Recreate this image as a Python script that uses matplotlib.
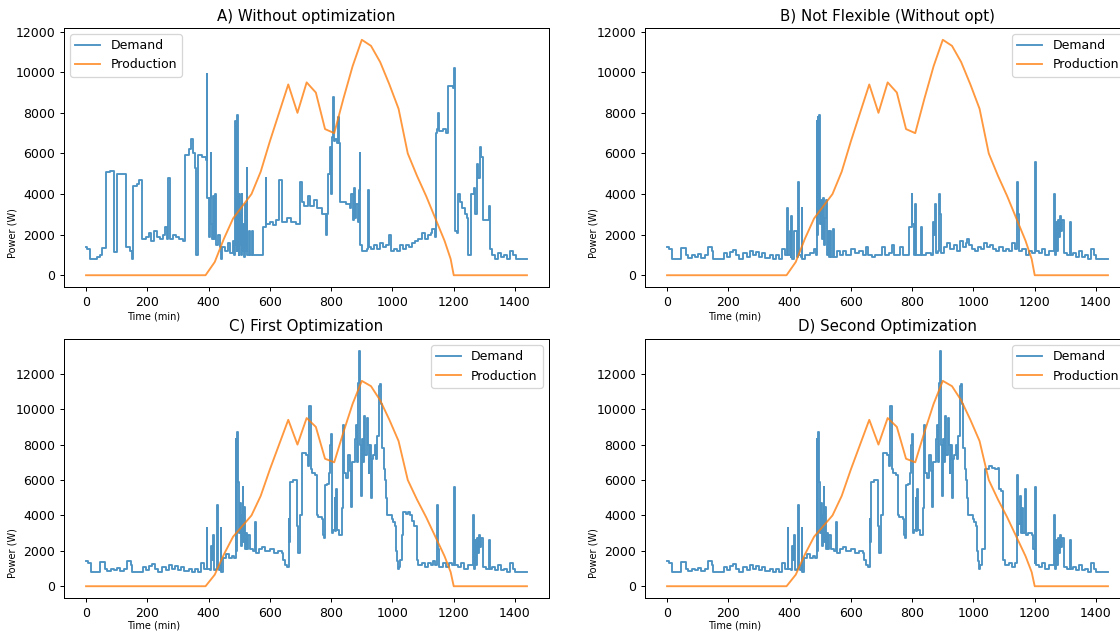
import numpy as np
import matplotlib
matplotlib.use('Agg')
import matplotlib.pyplot as plt

# production curve (W), 30 min resolution
prod_t = [0, 390, 420, 450, 480, 510, 540, 570, 600, 630, 660, 690, 720, 750, 780, 810,
          840, 870, 900, 930, 960, 990, 1020, 1050, 1080, 1110, 1140, 1170, 1190, 1200, 1439]
prod_w = [0, 0, 650, 1800, 2800, 3400, 4000, 5100, 6600, 8000, 9400, 8000, 9500, 9000, 7200, 7000,
          8700, 10300, 11600, 11300, 10500, 9400, 8200, 6000, 4900, 3900, 2800, 1700, 800, 0, 0]

# A) demand without optimization (breakpoints, minute, W)
a_t = [0, 4, 12, 35, 45, 52, 64, 78, 90, 101, 131, 145, 149, 154, 165, 174, 184, 195, 205, 212,
       222, 230, 240, 250, 258, 263, 268, 273, 285, 295, 305, 315, 322, 335, 343, 348, 355, 359,
       367, 380, 393, 394, 396, 400, 404, 407, 409, 412, 415, 418, 422, 425, 430, 436, 440, 445,
       455, 462, 470, 478, 484, 486, 488, 490, 492, 494, 496, 498, 500, 502, 504, 506, 508, 510,
       513, 516, 519, 521, 524, 526, 531, 534, 541, 544, 577, 586, 588, 600, 610, 620, 631, 638,
       655, 670, 685, 698, 704, 712, 725, 730, 745, 755, 770, 782, 786, 790, 795, 800, 803, 806,
       809, 812, 818, 822, 825, 830, 850, 862, 866, 870, 874, 878, 882, 886, 890, 893, 895, 900,
       918, 921, 923, 930, 940, 950, 960, 970, 980, 988, 995, 1005, 1015, 1025, 1035, 1045, 1055,
       1065, 1075, 1085, 1095, 1105, 1115, 1125, 1130, 1138, 1143, 1146, 1148, 1151, 1165, 1175,
       1181, 1198, 1200, 1203, 1210, 1214, 1222, 1228, 1236, 1242, 1247, 1255, 1258, 1265, 1270,
       1275, 1280, 1285, 1290, 1294, 1310, 1315, 1318, 1325, 1335, 1345, 1355, 1365, 1375, 1385,
       1395, 1402, 1439]
a_w = [1400, 1300, 800, 900, 1000, 1350, 5100, 5150, 1150, 5000, 1400, 1200, 800, 4400, 4500, 4700,
       1800, 1900, 2100, 1700, 2200, 1900, 1800, 2000, 2400, 1800, 4800, 1800, 2000, 1900, 1800,
       1700, 5900, 6200, 6700, 6000, 5300, 1000, 5900, 5800, 5700, 9900, 3800, 1900, 3800, 6000,
       2500, 1800, 3900, 1800, 4000, 1500, 2000, 1400, 800, 1400, 1200, 1600, 1100, 1700, 1000,
       7600, 1500, 3000, 1200, 7900, 2500, 1000, 4000, 1500, 3000, 1000, 4000, 1200, 2500, 900,
       3500, 1200, 5300, 1000, 2200, 1000, 2200, 1000, 2400, 4800, 2500, 2600, 2450, 2700, 4700,
       2600, 2800, 2600, 2500, 4600, 3600, 3400, 3900, 3400, 3700, 3300, 3000, 2000, 3000, 5000,
       6300, 4000, 6800, 8800, 6600, 6700, 6500, 7800, 6500, 3600, 3500, 3300, 4000, 2700, 4300,
       2800, 3500, 2600, 4200, 6000, 1500, 1200, 1300, 4200, 1400, 1300, 1500, 1300, 1600, 1400,
       1500, 2000, 1200, 1300, 1200, 1500, 1300, 1500, 1400, 1600, 1700, 1800, 2100, 1800, 2000,
       2100, 2300, 1900, 7000, 7200, 8000, 7100, 7200, 7000, 9300, 9200, 10200, 2200, 2100, 4000,
       3600, 3300, 3000, 2800, 1000, 1100, 4000, 4300, 3000, 5500, 4800, 6300, 5800, 2700, 2700,
       3400, 1300, 1000, 800, 1100, 900, 1000, 800, 1200, 1000, 800, 800]

# shared night baseline (0-390 min) for B, C, D
base_t = [0, 5, 17, 47, 62, 70, 80, 90, 100, 110, 125, 135, 146, 150, 175, 185, 195, 205, 215,
          225, 235, 248, 260, 270, 280, 290, 300, 310, 320, 335, 345, 355, 365, 375, 385]
base_w = [1400, 1300, 800, 1350, 1000, 850, 1000, 900, 1050, 850, 1000, 1400, 1200, 800, 800, 1100,
          900, 1150, 1250, 1000, 800, 1100, 900, 1200, 1000, 1150, 900, 1100, 850, 1000, 800, 1000,
          800, 1300, 1000]

# shared evening tail (from 1202 min) for B, C, D
tail_t = [1202, 1205, 1215, 1225, 1235, 1245, 1258, 1262, 1265, 1270, 1273, 1276, 1279, 1282, 1286,
          1290, 1295, 1305, 1314, 1317, 1325, 1335, 1345, 1355, 1365, 1375, 1385, 1392, 1400, 1439]
tail_w = [5600, 1200, 1100, 1300, 1000, 1200, 1200, 4000, 1000, 2600, 1200, 2700, 1900, 2900, 2200,
          2700, 1100, 1000, 2600, 1000, 1100, 900, 1200, 900, 1000, 800, 1300, 1000, 800, 800]

# B) not flexible, 390-1200 min
b_t = [393, 395, 400, 403, 406, 408, 415, 420, 425, 428, 430, 436, 440, 442, 450, 465, 480, 486,
       488, 490, 492, 494, 496, 498, 500, 503, 506, 509, 512, 515, 518, 521, 525, 528, 533, 536,
       541, 544, 555, 565, 575, 585, 600, 612, 625, 640, 648, 655, 670, 680, 700, 710, 725, 735,
       740, 760, 770, 790, 798, 801, 805, 810, 812, 828, 832, 845, 860, 868, 872, 876, 878, 885,
       889, 892, 894, 905, 915, 925, 935, 945, 955, 965, 975, 980, 985, 995, 1005, 1015, 1025,
       1035, 1045, 1055, 1065, 1075, 1085, 1095, 1105, 1115, 1125, 1135, 1142, 1145, 1148, 1160,
       1170, 1180, 1190]
b_w = [3300, 1000, 2200, 900, 2900, 800, 2200, 2200, 900, 4600, 1000, 900, 3300, 800, 1000, 1100,
       1300, 1000, 7600, 2000, 7800, 3000, 7900, 4600, 2500, 3700, 1800, 3800, 1500, 2800, 3700,
       1000, 2200, 900, 2200, 900, 2300, 900, 1200, 1000, 1200, 1000, 1300, 1100, 1200, 1000, 1400,
       1000, 900, 1000, 1400, 1000, 1100, 1500, 1000, 1400, 1000, 2400, 4000, 2500, 1000, 3500,
       1000, 2400, 1000, 1100, 1000, 2600, 2000, 3500, 1100, 1200, 4000, 3000, 1100, 1400, 1600,
       1300, 1500, 1200, 1700, 1400, 1600, 1800, 1500, 1300, 1200, 1400, 1300, 1600, 1400, 1500,
       1300, 1200, 1400, 1200, 1300, 1200, 1600, 1300, 4600, 3000, 1200, 1300, 1000, 1200, 1100]

# C) and D) optimized day block, 394-1021 min
opt_t = [394, 396, 405, 409, 411, 415, 417, 425, 428, 430, 435, 440, 442, 448, 456, 465, 475, 484,
         489, 491, 494, 497, 499, 502, 505, 508, 511, 513, 516, 519, 522, 526, 530, 535, 545, 551,
         554, 565, 575, 585, 600, 612, 625, 638, 643, 648, 655, 661, 664, 667, 675, 688, 692, 698,
         704, 706, 718, 723, 727, 729, 733, 737, 748, 753, 756, 770, 772, 776, 779, 788, 793, 797,
         799, 802, 807, 811, 814, 817, 820, 826, 834, 838, 840, 843, 848, 856, 861, 866, 869, 875,
         878, 881, 884, 887, 889, 891, 894, 896, 900, 904, 907, 910, 912, 916, 919, 922, 925, 928,
         931, 934, 937, 942, 946, 951, 955, 957, 960, 963, 966, 971, 975, 978, 983, 998, 1003,
         1009, 1012, 1015, 1018]
opt_w = [3300, 1000, 900, 2300, 1500, 2900, 900, 1000, 4600, 1200, 900, 3300, 800, 1600, 1800, 1600,
         1700, 1600, 8300, 2000, 8700, 5900, 3000, 4700, 2300, 4000, 5600, 2500, 4500, 2100, 3000,
         2100, 2900, 2100, 2000, 3600, 1900, 2100, 2200, 2000, 2100, 1900, 2000, 1900, 1500, 1200,
         1100, 3800, 2500, 5900, 6000, 3400, 1900, 4000, 7000, 7500, 7400, 6800, 9500, 10200, 6600,
         6400, 6300, 4000, 3900, 3800, 2900, 2700, 5700, 5800, 6400, 8000, 8600, 3000, 3200, 5000,
         3100, 5500, 3200, 2900, 4400, 7000, 9100, 6400, 6100, 7400, 6500, 4500, 7000, 7000, 8300,
         9100, 7000, 10600, 11500, 13300, 8000, 5100, 8300, 7000, 9600, 8000, 7400, 9500, 8000,
         6400, 7200, 8000, 5000, 7200, 7400, 8000, 7200, 8500, 10000, 11300, 11400, 10300, 7800,
         6600, 6000, 5000, 4000, 3800, 3600, 3400, 2000, 1400, 1000]

# C) first optimization, 1021-1200 min
c_t = [1021, 1024, 1030, 1036, 1044, 1050, 1058, 1065, 1070, 1079, 1085, 1095, 1105, 1115, 1125,
       1132, 1138, 1145, 1148, 1152, 1165, 1175, 1185, 1195]
c_w = [1100, 1500, 2900, 4200, 4100, 4200, 4000, 3700, 3400, 1500, 1200, 1300, 1100, 1300, 1200,
       1400, 1200, 4600, 2100, 1100, 1300, 1100, 1300, 1200]

# D) second optimization, 1021-1200 min
d_t = [1021, 1027, 1039, 1050, 1060, 1070, 1079, 1085, 1091, 1097, 1103, 1115, 1125, 1135, 1141,
       1144, 1147, 1152, 1155, 1159, 1163, 1167, 1170, 1178, 1190, 1196, 1200]
d_w = [1200, 2100, 6600, 6800, 6700, 6600, 6700, 5500, 5400, 1500, 1200, 1300, 1100, 1300, 6300,
       2900, 3500, 5100, 3000, 4400, 3000, 5500, 2900, 3000, 2900, 2100, 1300]

demand = {
    'A': (a_t, a_w),
    'B': (base_t + b_t + tail_t, base_w + b_w + tail_w),
    'C': (base_t + opt_t + c_t + tail_t, base_w + opt_w + c_w + tail_w),
    'D': (base_t + opt_t + d_t + tail_t, base_w + opt_w + d_w + tail_w),
}
titles = {'A': 'A) Without optimization', 'B': 'B) Not Flexible (Without opt)',
          'C': 'C) First Optimization', 'D': 'D) Second Optimization'}

W, H = 1120, 635
fig = plt.figure(figsize=(W / 90, H / 90), dpi=90)

# axes boxes in pixels: left, top (right column runs past the edge like the original crop)
boxes = {'A': (64, 28), 'B': (645, 28), 'C': (64, 339), 'D': (645, 339)}
aw, ah = 485, 259

for key in ['A', 'B', 'C', 'D']:
    x0, y0 = boxes[key]
    ax = fig.add_axes([x0 / W, 1 - (y0 + ah) / H, aw / W, ah / H])
    t, w = demand[key]
    ax.plot(t, w, drawstyle='steps-post', color='tab:blue', alpha=0.8, lw=1.5, label='Demand')
    ax.plot(prod_t, prod_w, color='tab:orange', alpha=0.8, lw=1.5, label='Production')
    ax.set_xticks([0, 200, 400, 600, 800, 1000, 1200, 1400])
    ax.set_title(titles[key], fontsize=12)
    ax.set_xlabel('Time (min)', fontsize=7.8)
    ax.set_ylabel('Power (W)', fontsize=7.8)
    top_row = key in ('A', 'B')
    ax.xaxis.set_label_coords(0.185, -0.095 if top_row else -0.085)
    ax.yaxis.set_label_coords(-0.095, 0.21 if top_row else 0.175)
    ax.legend(loc='upper left' if key == 'A' else 'upper right', fontsize=10)

fig.savefig('out.png', dpi=90)
